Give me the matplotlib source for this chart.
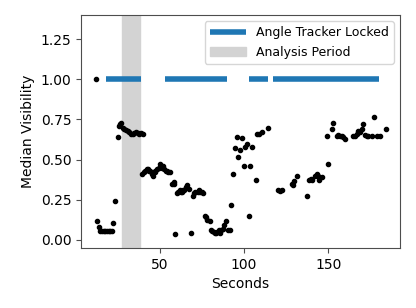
import matplotlib
matplotlib.use('Agg')
import matplotlib.pyplot as plt

# median visibility per second
seconds = [12.0, 12.6, 13.8, 14.6, 15.7, 16.7, 17.7, 18.8, 19.8, 20.8, 21.8, 22.5, 23.5,
           25.4, 25.7, 26.3, 27.2, 28.0, 29.0, 30.0, 31.0, 32.0, 33.0, 34.0, 35.0, 36.0, 37.0, 38.0, 39.0, 39.8,
           39.6, 40.5, 41.5, 42.3, 42.9, 43.7, 44.5, 45.3, 46.1, 47.0, 47.5, 48.5, 49.5, 50.4, 51.4, 52.1,
           52.8, 53.6, 54.4, 55.2, 55.9,
           57.3, 58.2, 58.7, 59.3, 60.3, 61.0, 61.8, 62.5, 63.3, 64.0, 64.6, 65.4, 66.2, 67.2, 68.6, 69.8,
           70.5, 71.1, 72.5, 73.3, 74.1, 75.0, 75.7,
           76.6, 77.3, 78.0, 79.6, 80.4, 81.2, 82.0, 82.8, 83.5, 84.2, 84.9, 85.9, 86.6, 87.3, 88.3, 89.3,
           90.2, 91.4, 92.4,
           93.2, 94.4, 95.8, 96.4, 97.8, 98.8, 99.7, 100.7, 101.7, 102.7, 103.7, 104.7, 107.0, 107.6, 108.6,
           110.6, 114.5,
           120.4, 121.2, 122.4, 128.3, 129.2, 129.7, 131.3, 137.6, 138.8, 139.5, 140.2, 142.2, 143.1, 144.0,
           144.7, 146.1, 150.0,
           149.0, 152.0, 153.0, 155.0, 156.0, 157.0, 158.0, 158.9, 159.9, 164.8, 165.8, 166.8, 167.8, 168.8,
           169.8, 170.7, 171.7, 172.7, 173.7, 175.7, 177.2, 178.6, 180.6, 184.0]
visibility = [1.0, 0.12, 0.08, 0.058, 0.055, 0.055, 0.055, 0.055, 0.055, 0.055, 0.055, 0.108, 0.24,
              0.64, 0.71, 0.72, 0.73, 0.70, 0.69, 0.685, 0.68, 0.67, 0.66, 0.66, 0.665, 0.67, 0.665, 0.66, 0.665, 0.66,
              0.41, 0.42, 0.43, 0.44, 0.44, 0.43, 0.43, 0.41, 0.40, 0.42, 0.43, 0.44, 0.45, 0.47, 0.45, 0.46,
              0.44, 0.43, 0.43, 0.42, 0.42,
              0.35, 0.36, 0.35, 0.035, 0.29, 0.30, 0.31, 0.30, 0.30, 0.31, 0.31, 0.33, 0.34, 0.32, 0.04, 0.275,
              0.29, 0.30, 0.30, 0.31, 0.30, 0.30, 0.29,
              0.15, 0.14, 0.125, 0.115, 0.06, 0.055, 0.05, 0.045, 0.04, 0.05, 0.06, 0.04, 0.06, 0.07, 0.09, 0.115,
              0.06, 0.06, 0.22,
              0.41, 0.57, 0.64, 0.515, 0.56, 0.635, 0.46, 0.58, 0.60, 0.15, 0.46, 0.58, 0.37, 0.66, 0.66,
              0.67, 0.70,
              0.31, 0.305, 0.31, 0.35, 0.34, 0.365, 0.40, 0.275, 0.375, 0.38, 0.37, 0.40, 0.41, 0.40,
              0.375, 0.39, 0.47,
              0.646, 0.69, 0.73, 0.65, 0.655, 0.646, 0.645, 0.64, 0.63, 0.65, 0.645, 0.66, 0.68, 0.67,
              0.69, 0.72, 0.656, 0.65, 0.645, 0.65, 0.765, 0.645, 0.645, 0.69]

# periods where the angle tracker was locked
locked_start = [17.9, 52.9, 103.0, 116.9]
locked_end = [39.2, 90.0, 114.0, 180.0]
analysis_period = (27.5, 38.5)

fig = plt.figure(figsize=(4.16, 3.08), dpi=100)
ax = fig.add_axes([0.195, 0.195, 0.767, 0.756])

span = ax.axvspan(analysis_period[0], analysis_period[1], color='lightgray', zorder=0)
for i in range(len(locked_start)):
    line, = ax.plot([locked_start[i], locked_end[i]], [1.0, 1.0], color='#1f77b4', lw=4,
                    solid_capstyle='butt', zorder=1)
ax.plot(seconds, visibility, 'k.', ms=6, zorder=2)

ax.set_xlim(3.4, 192.6)
ax.set_ylim(-0.05, 1.4)
ax.set_xticks([50, 100, 150])
ax.set_yticks([0.0, 0.25, 0.5, 0.75, 1.0, 1.25])
ax.set_xlabel('Seconds')
ax.set_ylabel('Median Visibility')
for s in ax.spines.values():
    s.set_color('0.3')
ax.tick_params(color='0.3')
ax.legend([line, span], ['Angle Tracker Locked', 'Analysis Period'],
          loc='upper right', fontsize=9, handlelength=2.9)

fig.savefig('out.png', dpi=100)
